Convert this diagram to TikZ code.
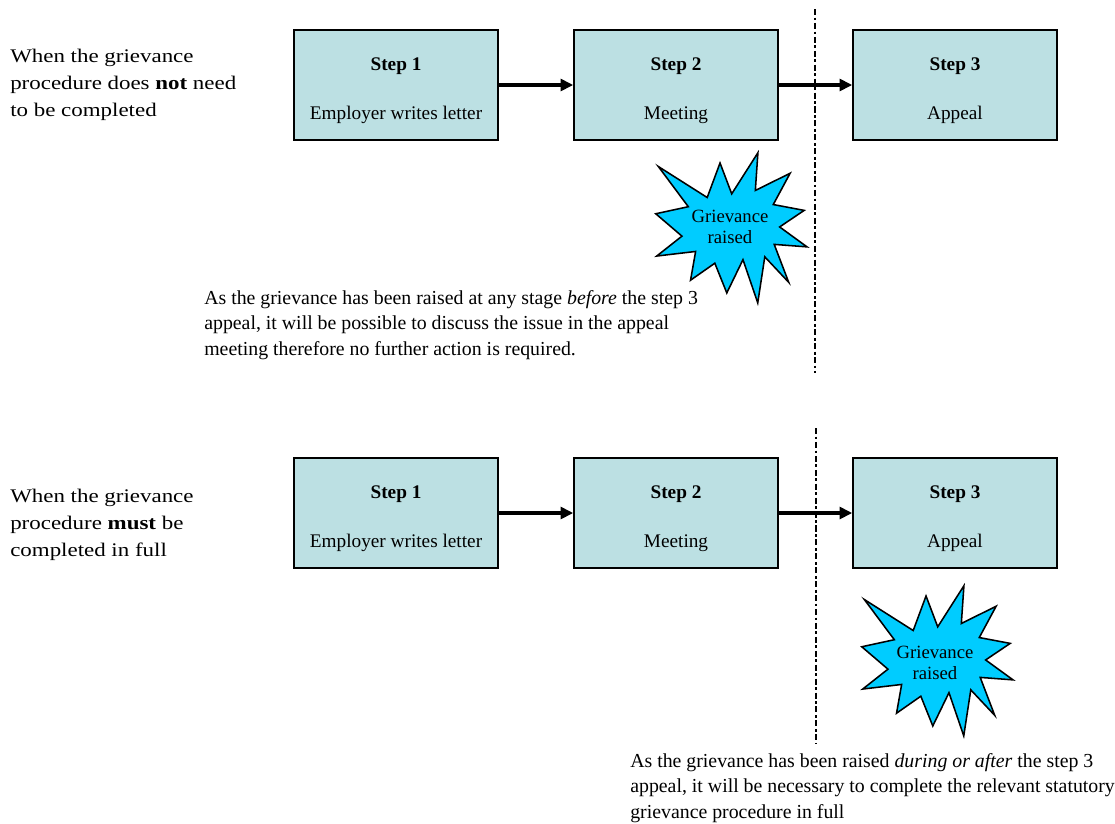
\documentclass[tikz,border=0pt]{standalone}
\usepackage{fontspec}
\setmainfont{Liberation Serif}
\newfontfamily\widefont[FakeStretch=1.19]{Liberation Serif}
\usepackage{xcolor}
\usetikzlibrary{arrows.meta}
\definecolor{stepteal}{HTML}{BCE0E3}
\definecolor{burstblue}{HTML}{00CCFF}

\tikzset{
  stepbox/.style={draw, line width=1.1pt, fill=stepteal, minimum width=5.1cm, minimum height=2.75cm, align=center, inner sep=0pt},
  flow/.style={line width=2.2pt, -{Triangle[length=9pt,width=8.5pt]}},
  divider/.style={line width=2pt, dash pattern=on 4.3pt off 1.8pt on 2pt off 1.8pt},
  burst/.style={draw, line width=1.1pt, fill=burstblue, line join=miter},
  burstlabel/.style={align=center, inner sep=0pt, font=\fontsize{13.3pt}{15pt}\selectfont},
  note/.style={anchor=north west, inner sep=0pt, align=left, font=\fontsize{14.1pt}{18.2pt}\selectfont},
  casetext/.style={anchor=north west, inner sep=0pt, align=left, font=\widefont\fontsize{13.7pt}{19pt}\selectfont}
}

% step title and text, a little below the middle of the box
\newcommand{\steptext}[2]{\rule{0pt}{17pt}\textbf{#1}\\[16pt]#2}

% explosion outline, 216 x 216 units
\newcommand{\burstpath}{(109.01,59.05) -- (92.4,15.5) -- (74.17,64.25) -- (4.76,20.5) -- (47.32,77.22) -- (1.06,87.18) -- (38.28,118.80) -- (2.43,146.89) -- (57.72,140.41) -- (50.5,181) -- (85,157) -- (102,199) -- (125,152) -- (146,213) -- (156,148) -- (190,184) -- (169.38,130.44) -- (216,133.93) -- (177.10,105.79) -- (211.98,82.42) -- (168.06,74.17) -- (192,30) -- (142.57,54.29) -- (146.23,1.06) -- cycle}

\begin{document}
\begin{tikzpicture}[x=0.025cm, y=-0.025cm, font=\fontsize{13.7pt}{18.5pt}\selectfont]
\useasboundingbox (0,0) rectangle (1115,823);

% grievance raised before the appeal
\node[casetext] (casea) at (10,49) {When the grievance\\procedure does \textbf{not} need\\to be completed};
\node[stepbox] (step1a) at (396,85) {\steptext{Step 1}{Employer writes letter}};
\node[stepbox] (step2a) at (676,85) {\steptext{Step 2}{Meeting}};
\node[stepbox] (step3a) at (955,85) {\steptext{Step 3}{Appeal}};
\draw[flow] (step1a) -- (step2a);
\draw[flow] (step2a) -- (step3a);
\coordinate (cuttopa) at (815,9);
\coordinate (cutbota) at (815,373);
\draw[divider] (cuttopa) -- (cutbota);
\begin{scope}[shift={(655,152)}, xscale=0.7037, yscale=0.7083]
  \draw[burst] \burstpath;
\end{scope}
\node[burstlabel] (raiseda) at (730,227) {Grievance\\raised};
\node[note] (notea) at (204,290) {As the grievance has been raised at any stage \textit{before} the step 3\\appeal, it will be possible to discuss the issue in the appeal\\meeting therefore no further action is required.};

% grievance raised during or after the appeal
\node[casetext] (caseb) at (10,489) {When the grievance\\procedure \textbf{must} be\\completed in full};
\node[stepbox] (step1b) at (396,513) {\steptext{Step 1}{Employer writes letter}};
\node[stepbox] (step2b) at (676,513) {\steptext{Step 2}{Meeting}};
\node[stepbox] (step3b) at (955,513) {\steptext{Step 3}{Appeal}};
\draw[flow] (step1b) -- (step2b);
\draw[flow] (step2b) -- (step3b);
\coordinate (cuttopb) at (816,428);
\coordinate (cutbotb) at (816,744);
\draw[divider] (cuttopb) -- (cutbotb);
\begin{scope}[shift={(861,585)}, xscale=0.7037, yscale=0.7083]
  \draw[burst] \burstpath;
\end{scope}
\node[burstlabel] (raisedb) at (935,663) {Grievance\\raised};
\node[note] (noteb) at (630,753) {As the grievance has been raised \textit{during or after} the step 3\\appeal, it will be necessary to complete the relevant statutory\\grievance procedure in full};
\end{tikzpicture}
\end{document}
